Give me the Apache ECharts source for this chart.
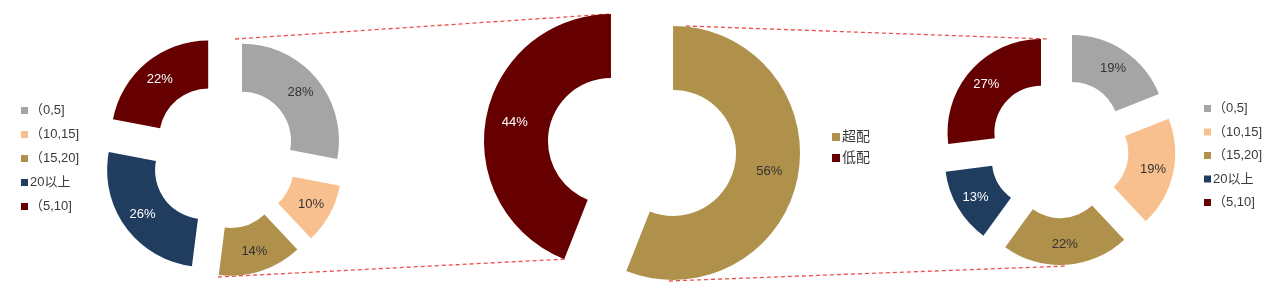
<!DOCTYPE html>
<html><head><meta charset="utf-8">
<script src="https://cdn.jsdelivr.net/npm/echarts@6/dist/echarts.min.js"></script>
<style>html,body{margin:0;padding:0;background:#fff;}#c{width:1281px;height:291px;}</style>
</head><body><div id="c"></div>
<script>
const categories = ['（0,5]', '（10,15]', '（15,20]', '20以上', '（5,10]'];
const leftValues = [28, 10, 14, 26, 22];
const rightValues = [19, 19, 22, 13, 27];
const midCategories = ['超配', '低配'];
const midValues = [56, 44];

const catColors = ['#A5A5A5', '#F9C08F', '#B0914C', '#203D60', '#660000'];
const catLabelColors = ['#333', '#333', '#333', '#fff', '#fff'];
const midColors = ['#B0914C', '#660000'];
const midLabelColors = ['#333', '#fff'];
const FONT = '"Liberation Sans", Arial, "Noto Sans CJK SC", sans-serif';

function mkData(names, vals, colors, lcolors) {
  return names.map((n, i) => ({
    name: n, value: vals[i], selected: true,
    itemStyle: { color: colors[i] },
    label: { color: lcolors[i] }
  }));
}
function mkPie(center, radius, offset, data) {
  return {
    type: 'pie', center: center, radius: radius, startAngle: 90, clockwise: true,
    selectedMode: 'multiple', selectedOffset: offset,
    avoidLabelOverlap: false,
    label: { show: true, position: 'inside', formatter: '{c}%', fontSize: 13, fontFamily: FONT },
    labelLine: { show: false },
    emphasis: { scale: false, disabled: true },
    itemStyle: { borderWidth: 0 },
    data: data
  };
}
const legendCommon = {
  orient: 'vertical', itemWidth: 7, itemHeight: 7, icon: 'rect', itemGap: 11,
  selectedMode: false,
  textStyle: { fontSize: 13, color: '#3a3a3a', fontFamily: FONT, padding: [0, 0, 0, -3] }
};
const dash = { stroke: '#F24E4E', lineWidth: 1.3, lineDash: [4, 3] };
function line(x1, y1, x2, y2) {
  return { type: 'line', shape: { x1, y1, x2, y2 }, style: dash, silent: true };
}

const chart = echarts.init(document.getElementById('c'), null, { renderer: 'canvas' });
chart.setOption({
  animation: false,
  backgroundColor: '#fff',
  legend: [
    Object.assign({}, legendCommon, { left: 16, top: 99, data: categories }),
    Object.assign({}, legendCommon, { left: 827, top: 125, data: midCategories, itemWidth: 8, itemHeight: 8, itemGap: 7,
      textStyle: { fontSize: 14, color: '#3a3a3a', fontFamily: FONT, padding: [0, 0, 0, -3] } }),
    Object.assign({}, legendCommon, { left: 1199, top: 97, itemGap: 10.5, data: categories })
  ],
  series: [
    mkPie([223.5, 156], [49, 97], 24, mkData(categories, leftValues, catColors, catLabelColors)),
    mkPie([642, 147], [63, 127], 31.6, mkData(midCategories, midValues, midColors, midLabelColors)),
    mkPie([1058.7, 148], [46.6, 93.5], 23.6, mkData(categories, rightValues, catColors, catLabelColors))
  ],
  graphic: [
    line(235, 39, 610, 14),
    line(218, 277, 567, 259),
    line(686, 26, 1048, 39),
    line(669, 281, 1067, 266)
  ]
});
</script></body></html>
